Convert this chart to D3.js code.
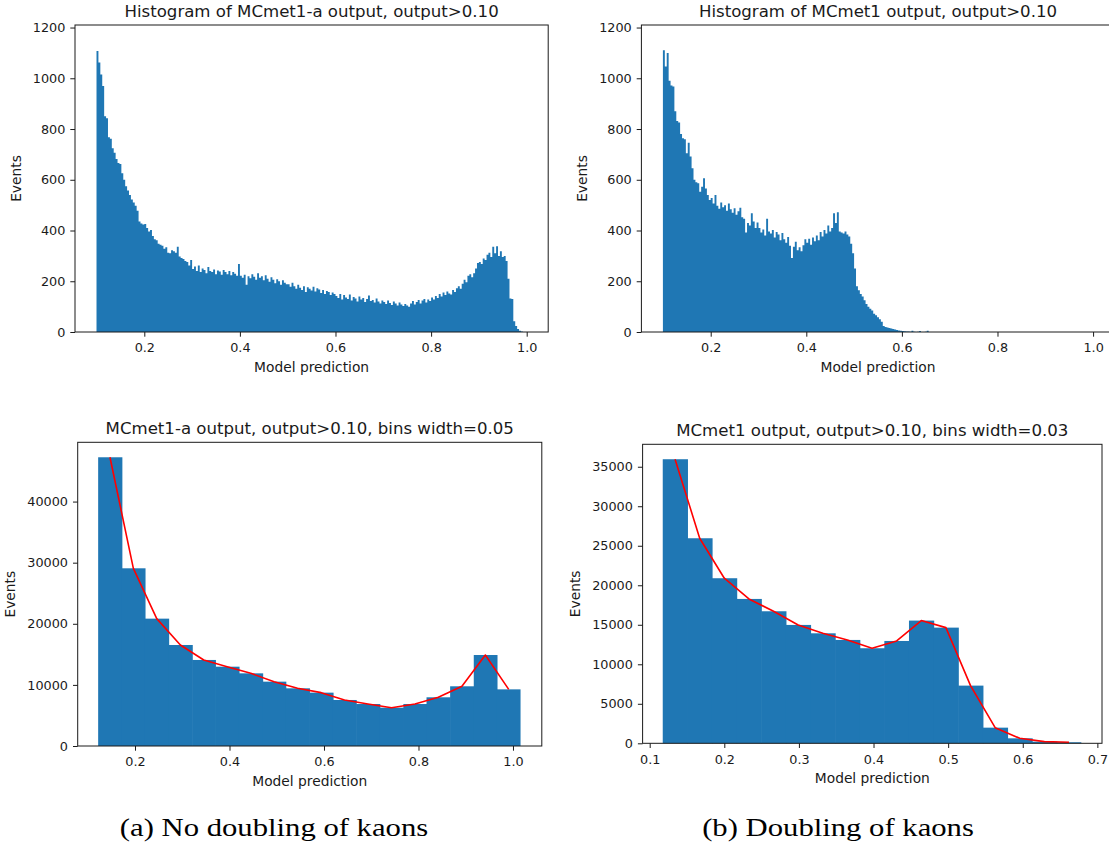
<!DOCTYPE html>
<html>
<head>
<meta charset="utf-8">
<script src="https://cdn.jsdelivr.net/npm/d3@7"></script>
<style>
  body { margin: 0; background: #fff; }
  svg { display: block; }
  .sans { font-family: "DejaVu Sans", sans-serif; fill: #1a1a1a; }
  .caption { font-family: "Liberation Serif", "DejaVu Serif", serif; fill: #000; }
</style>
</head>
<body>
<svg id="fig" width="1109" height="852"></svg>
<script>
// ---------- data ----------
// Fine histograms: bins of width 0.004 starting at 0.10
const fineStart = 0.10;
const fineWidth = 0.004;

// MCmet1-a output, 0.10 .. 1.00 (25 bins per 0.1 row)
const countsA = [
  1108, 1062, 1015, 970, 850, 842, 768, 762, 724, 706, 682, 666, 662, 626, 600, 574, 558, 540, 522, 510, 498, 478, 436, 428, 424,
  426, 410, 396, 402, 378, 366, 362, 348, 344, 340, 328, 334, 312, 310, 322, 318, 312, 336, 298, 292, 288, 280, 276, 262, 284,
  248, 258, 240, 262, 236, 250, 244, 232, 256, 240, 236, 246, 228, 242, 238, 226, 244, 236, 228, 240, 224, 236, 230, 222, 268,
  222, 214, 226, 186, 220, 212, 228, 218, 206, 232, 214, 220, 204, 224, 210, 198, 216, 206, 192, 208, 200, 186, 204, 194, 188,
  188, 178, 194, 180, 170, 186, 174, 166, 180, 158, 176, 170, 164, 178, 160, 172, 168, 154, 166, 150, 162, 158, 146, 156, 150,
  142, 134, 150, 128, 146, 136, 130, 148, 124, 138, 132, 120, 140, 128, 134, 118, 130, 144, 122, 126, 116, 132, 120, 112, 124,
  118, 110, 124, 114, 106, 120, 112, 104, 116, 108, 102, 110, 104, 100, 112, 122, 108, 118, 126, 112, 124, 130, 116, 128, 122,
  136, 128, 142, 134, 150, 140, 156, 146, 160, 152, 148, 166, 158, 172, 180, 170, 190, 206, 196, 222, 228, 216, 232, 250, 272,
  276, 268, 290, 284, 304, 312, 296, 336, 310, 338, 300, 318, 296, 300, 280, 210, 132, 130, 42, 24, 12, 5, 2, 0, 0
];

// MCmet1 output, 0.10 .. 0.70 (bins above 0.70 are empty)
const countsB = [
  1110, 1046, 1100, 990, 972, 968, 870, 832, 826, 780, 764, 760, 705, 746, 692, 645, 600, 590, 586, 553, 572, 606, 566, 540, 520,
  528, 506, 540, 498, 486, 510, 492, 500, 478, 506, 484, 470, 488, 462, 476, 490, 452, 446, 392, 430, 420, 468, 436, 410, 432,
  410, 392, 404, 380, 446, 396, 388, 402, 372, 394, 384, 362, 390, 366, 352, 374, 340, 292, 336, 356, 322, 334, 318, 342, 366,
  352, 368, 344, 372, 358, 380, 362, 394, 376, 402, 388, 420, 396, 410, 468, 430, 472, 396, 392, 388, 396, 384, 376, 348, 310,
  250, 180, 165, 150, 140, 125, 110, 100, 92, 85, 72, 66, 58, 50, 40, 24, 20, 18, 16, 14, 12, 10, 8, 6, 5,
  4, 3, 2, 2, 1, 5, 1, 0, 1, 4, 0, 0, 1, 5, 0, 0, 0, 0, 0, 0, 0, 0, 0, 0, 0
];

// Coarse histograms (bin edges and counts)
const edgesA = [0.122, 0.172, 0.221, 0.271, 0.321, 0.370, 0.420, 0.470, 0.519, 0.569,
                0.619, 0.668, 0.718, 0.768, 0.817, 0.867, 0.917, 0.966, 1.016];
const coarseA = [47250, 29080, 20840, 16530, 14080, 12980, 11890, 10530, 9440,
                 8730, 7530, 6870, 6270, 6870, 7970, 9770, 14890, 9270];

const edgesB = [0.1175, 0.1505, 0.1835, 0.2165, 0.2495, 0.2825, 0.3155, 0.3485, 0.3815,
                0.4145, 0.4475, 0.4805, 0.5135, 0.5465, 0.5795, 0.6125, 0.6455, 0.6785];
const coarseB = [35950, 25950, 20890, 18270, 16710, 14980, 13920, 13080, 12030,
                 12950, 15530, 14640, 7300, 1980, 630, 210, 130];

const titles = [
  "Histogram of MCmet1-a output, output>0.10",
  "Histogram of MCmet1 output, output>0.10",
  "MCmet1-a output, output>0.10, bins width=0.05",
  "MCmet1 output, output>0.10, bins width=0.03"
];
const xTicksTop = [0.2, 0.4, 0.6, 0.8, 1.0];
const yTicksTop = [0, 200, 400, 600, 800, 1000, 1200];
const xTicksA = [0.2, 0.4, 0.6, 0.8, 1.0];
const yTicksA = [0, 10000, 20000, 30000, 40000];
const xTicksB = [0.1, 0.2, 0.3, 0.4, 0.5, 0.6, 0.7];
const yTicksB = [0, 5000, 10000, 15000, 20000, 25000, 30000, 35000];
const captions = ["(a) No doubling of kaons", "(b) Doubling of kaons"];

// ---------- layout ----------
const svg = d3.select("#fig");
const BLUE = "#1f77b4";

const panels = [
  { box: [75.0, 548.2, 25, 332], xd: [0.055, 1.045], yd: [0, 1210],
    xt: xTicksTop, yt: yTicksTop, title: titles[0], titleY: 17, ylabX: 16, xlabY: 372 },
  { box: [641.4, 1114.6, 25, 332], xd: [0.055, 1.045], yd: [0, 1210],
    xt: xTicksTop, yt: yTicksTop, title: titles[1], titleY: 17, ylabX: 582, xlabY: 372 },
  { box: [77.7, 541.8, 442.3, 746], xd: [0.0787, 1.061], yd: [0, 49700],
    xt: xTicksA, yt: yTicksA, title: titles[2], titleY: 434, ylabX: 10, xlabY: 786 },
  { box: [642.6, 1102, 444.3, 743.3], xd: [0.0905, 0.7062], yd: [0, 37840],
    xt: xTicksB, yt: yTicksB, title: titles[3], titleY: 436, ylabX: 575, xlabY: 783 }
];

panels.forEach(p => {
  const [l, r, t, b] = p.box;
  p.x = d3.scaleLinear().domain(p.xd).range([l, r]);
  p.y = d3.scaleLinear().domain(p.yd).range([b, t]);
  p.g = svg.append("g");
});

// ---------- fine histograms (drawn as one filled step outline) ----------
function drawFine(p, counts) {
  const bins = counts.map((v, i) => ({ x0: fineStart + i * fineWidth, x1: fineStart + (i + 1) * fineWidth, v }));
  const pts = [[p.x(bins[0].x0), p.y(0)]];
  bins.forEach(d => {
    pts.push([p.x(d.x0), p.y(d.v)]);
    pts.push([p.x(d.x1), p.y(d.v)]);
  });
  pts.push([p.x(bins[bins.length - 1].x1), p.y(0)]);
  p.g.append("path")
    .attr("d", d3.line()(pts) + "Z")
    .attr("fill", BLUE)
    .attr("stroke", "none");
}
drawFine(panels[0], countsA);
drawFine(panels[1], countsB);

// ---------- coarse histograms + connecting line ----------
function drawCoarse(p, edges, counts) {
  const bins = counts.map((v, i) => ({ x0: edges[i], x1: edges[i + 1], v }));
  const last = bins.length - 1;
  p.g.append("g").selectAll("rect").data(bins).join("rect")
    .attr("x", d => p.x(d.x0))
    .attr("width", (d, i) => p.x(d.x1) - p.x(d.x0) + (i < last ? 0.6 : 0))
    .attr("y", d => p.y(d.v))
    .attr("height", d => p.y(0) - p.y(d.v))
    .attr("fill", BLUE);
  const line = d3.line()
    .x(d => p.x((d.x0 + d.x1) / 2))
    .y(d => p.y(d.v));
  p.g.append("path").datum(bins)
    .attr("d", line)
    .attr("fill", "none")
    .attr("stroke", "#ff0000")
    .attr("stroke-width", 1.6)
    .attr("stroke-linejoin", "round");
}
drawCoarse(panels[2], edgesA, coarseA);
drawCoarse(panels[3], edgesB, coarseB);

// ---------- axes, frames, labels ----------
panels.forEach(p => {
  const [l, r, t, b] = p.box;
  const xa = p.g.append("g").attr("transform", `translate(0,${b})`)
    .call(d3.axisBottom(p.x).tickValues(p.xt).tickFormat(d3.format(".1f"))
      .tickSize(4.7).tickPadding(6.5).tickSizeOuter(0));
  const ya = p.g.append("g").attr("transform", `translate(${l},0)`)
    .call(d3.axisLeft(p.y).tickValues(p.yt).tickFormat(d3.format("d"))
      .tickSize(4.7).tickPadding(5).tickSizeOuter(0));
  [xa, ya].forEach(a => {
    a.select(".domain").remove();
    a.selectAll(".tick line").attr("stroke", "#1a1a1a").attr("stroke-width", 1);
    a.selectAll(".tick text").attr("class", "sans").attr("font-size", 12.8)
      .attr("fill", "#1a1a1a");
  });

  p.g.append("rect")
    .attr("x", l).attr("y", t)
    .attr("width", r - l).attr("height", b - t)
    .attr("fill", "none").attr("stroke", "#1a1a1a").attr("stroke-width", 1);

  p.g.append("text").attr("class", "sans")
    .attr("x", (l + r) / 2).attr("y", p.titleY)
    .attr("text-anchor", "middle").attr("font-size", 16.6)
    .text(p.title);

  p.g.append("text").attr("class", "sans")
    .attr("x", (l + r) / 2).attr("y", p.xlabY)
    .attr("text-anchor", "middle").attr("font-size", 13.8)
    .text("Model prediction");

  p.g.append("text").attr("class", "sans")
    .attr("transform", `translate(${p.ylabX},${(t + b) / 2}) rotate(-90)`)
    .attr("text-anchor", "middle").attr("dominant-baseline", "central")
    .attr("font-size", 13.8)
    .text("Events");
});

// ---------- sub-figure captions (wide serif face) ----------
[[274, captions[0]], [838, captions[1]]].forEach(([cx, txt]) => {
  svg.append("text").attr("class", "caption")
    .attr("transform", `translate(${cx},836) scale(1.18,1)`)
    .attr("text-anchor", "middle")
    .attr("font-size", 26).text(txt);
});
</script>
</body>
</html>
